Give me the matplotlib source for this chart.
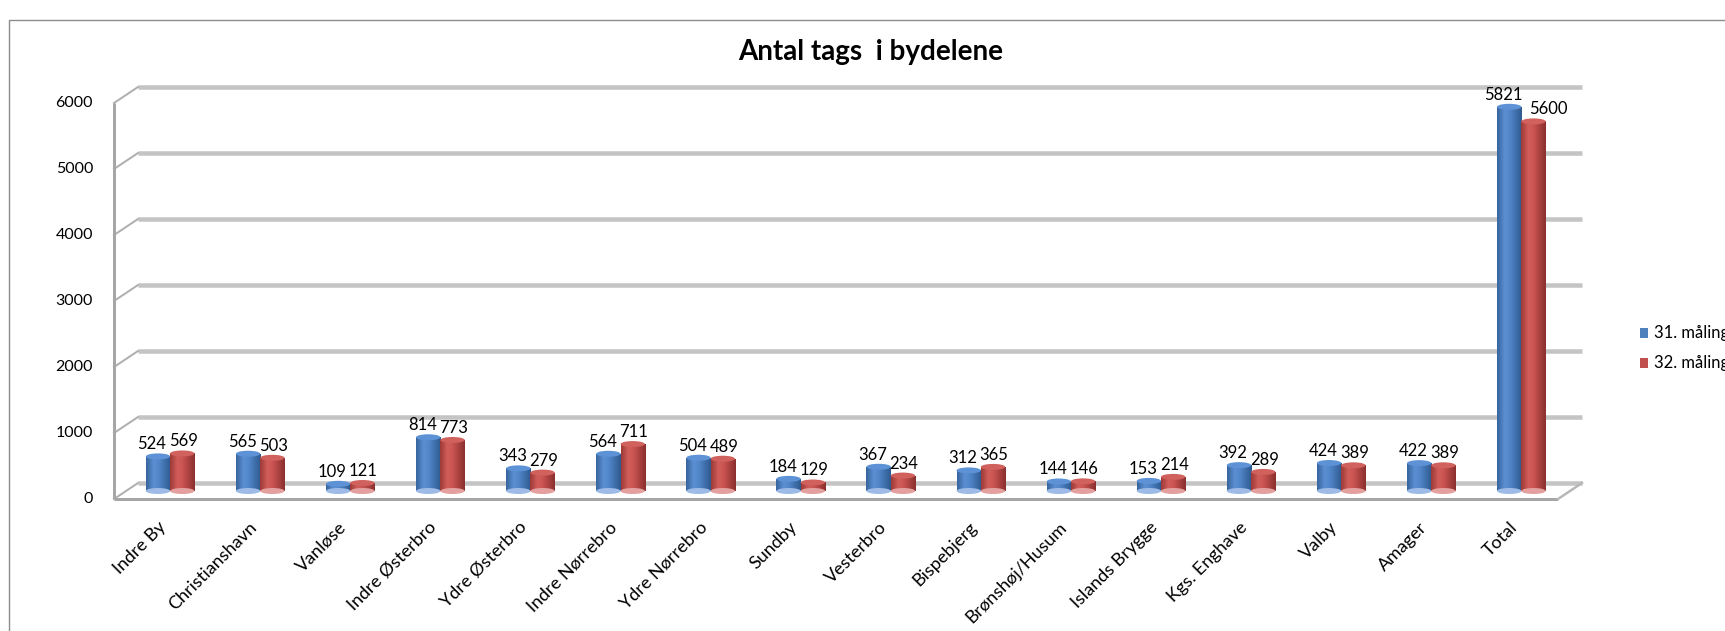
import numpy as np
import matplotlib
matplotlib.use("Agg")
import matplotlib.pyplot as plt
from matplotlib.patches import Ellipse, Rectangle
from matplotlib.colors import LinearSegmentedColormap

categories = ["Indre By", "Christianshavn", "Vanløse", "Indre Østerbro", "Ydre Østerbro",
              "Indre Nørrebro", "Ydre Nørrebro", "Sundby", "Vesterbro", "Bispebjerg",
              "Brønshøj/Husum", "Islands Brygge", "Kgs. Enghave", "Valby", "Amager", "Total"]
maaling31 = [524, 565, 109, 814, 343, 564, 504, 184, 367, 312, 144, 153, 392, 424, 422, 5821]
maaling32 = [569, 503, 121, 773, 279, 711, 489, 129, 234, 365, 146, 214, 289, 389, 389, 5600]
series_names = ["31. måling", "32. måling"]
yticks = [0, 1000, 2000, 3000, 4000, 5000, 6000]
title = "Antal tags  i bydelene"

FONT = ["Lato", "DejaVu Sans"]
plt.rcParams["font.family"] = FONT

W, H, DPI = 1725, 631, 100
fig = plt.figure(figsize=(W / DPI, H / DPI), dpi=DPI)
fig.patch.set_facecolor("white")

AX_L, AX_R, AX_BASE, AX_H = 126, 1570, 491, 396
ax = fig.add_axes([AX_L / W, (H - AX_BASE) / H, (AX_R - AX_L) / W, AX_H / H])
XMIN, XMAX = -0.49, 15.54
YMAX = 6000
ax.set_xlim(XMIN, XMAX)
ax.set_ylim(0, YMAX)
ax.axis("off")

px_x = (AX_R - AX_L) / (XMAX - XMIN)   # pixels per x unit
px_y = AX_H / YMAX                     # pixels per y unit
dxd = 12 / px_x                        # half depth (data units)
dyd = 8 / px_y
PT = 72 / DPI

grid_col = "#c4c4c4"
axis_col = "#a6a6a6"

# back-wall gridlines
for v in yticks:
    ax.plot([XMIN + dxd, XMAX + dxd], [v + dyd, v + dyd], color=grid_col,
            lw=4.5 * PT, solid_capstyle="butt", clip_on=False, zorder=1)
    # slanted tick from front axis to back wall
    ax.plot([XMIN - dxd, XMIN + dxd], [v - dyd, v + dyd], color="#b0b0b0",
            lw=2 * PT, clip_on=False, zorder=1)
    ax.text(XMIN - dxd - 21 / px_x, v - dyd, f"{v}", ha="right", va="center",
            fontsize=11.5, color="black", clip_on=False)

# front axis line and floor edge
ax.plot([XMIN - dxd, XMIN - dxd], [-dyd, YMAX - dyd], color=axis_col,
        lw=3 * PT, clip_on=False, zorder=2, solid_capstyle="butt")
ax.plot([XMIN - dxd, XMAX - dxd], [-dyd, -dyd], color=axis_col,
        lw=3 * PT, clip_on=False, zorder=2, solid_capstyle="butt")
ax.plot([XMAX - dxd, XMAX + dxd], [-dyd, dyd], color="#b8b8b8",
        lw=2.5 * PT, clip_on=False, zorder=2)

# cylinders
bw = 0.27
cmap_blue = LinearSegmentedColormap.from_list(
    "b", [(0, "#36649c"), (0.3, "#5b8fd2"), (0.5, "#5288cb"), (1, "#2f5a8f")])
cmap_red = LinearSegmentedColormap.from_list(
    "r", [(0, "#9c3a37"), (0.3, "#d25e5a"), (0.5, "#ca5552"), (1, "#8a302e")])
top_cols = ["#5d93d6", "#d0615d"]
bot_cols = ["#9dbbe6", "#e3a09e"]
grad = np.linspace(0, 1, 64).reshape(1, -1)
ell_h = 6 / px_y
label_dx = [-6, 1]

x = np.arange(len(categories))
for s, (vals, cmap) in enumerate([(maaling31, cmap_blue), (maaling32, cmap_red)]):
    for i, v in enumerate(vals):
        cx = x[i] + (s - 0.5) * bw
        left = cx - bw / 2
        body = Rectangle((left, 0), bw, v, facecolor="none", edgecolor="none")
        ax.add_patch(body)
        im = ax.imshow(grad, cmap=cmap, extent=(left, left + bw, 0, v),
                       aspect="auto", interpolation="bicubic", zorder=3 + s)
        im.set_clip_path(body)
        ax.add_patch(Ellipse((cx, 0), bw, ell_h, facecolor=bot_cols[s],
                             edgecolor="none", zorder=3 + s, clip_on=False))
        ax.add_patch(Ellipse((cx, v), bw, ell_h, facecolor=top_cols[s],
                             edgecolor="none", zorder=3 + s, clip_on=False))
        dx = label_dx[s]
        if s == 1 and len(str(v)) > 3:
            dx += 14   # long second-series label sits clear of the first one
        ax.annotate(f"{v}", (cx, v), xytext=(dx * PT, 4 * PT),
                    textcoords="offset points", ha="center", va="bottom",
                    fontsize=12, color="black", annotation_clip=False, zorder=10)

ax.set_xlim(XMIN, XMAX)
ax.set_ylim(0, YMAX)

# category labels
for i, cat in enumerate(categories):
    ax.annotate(cat, (x[i], 0), xytext=(-12 * PT, -28 * PT),
                textcoords="offset points", ha="right", va="top", rotation=45,
                rotation_mode="anchor", fontsize=13, color="black",
                annotation_clip=False)

# title
fig.text(871 / W, 1 - 52 / H, title, ha="center", va="center", fontsize=20,
         fontweight="bold", color="black")

# legend (partly outside the figure, as in the reference)
leg_cols = ["#4f81bd", "#c0504d"]
for k, (name, col) in enumerate(zip(series_names, leg_cols)):
    yc = [333, 363][k]
    fig.patches.append(Rectangle((1640 / W, 1 - (yc + 5) / H), 8 / W, 10 / H,
                                 transform=fig.transFigure, facecolor=col,
                                 edgecolor="none"))
    fig.text(1654 / W, 1 - yc / H, name, ha="left", va="center", fontsize=12,
             color="black")

# chart border
fig.patches.append(Rectangle((9 / W, -0.2), 1.5, (H - 20) / H + 0.2,
                             transform=fig.transFigure, fill=False,
                             edgecolor="#8c8c8c", lw=1.0))

fig.savefig("out.png", dpi=DPI)
